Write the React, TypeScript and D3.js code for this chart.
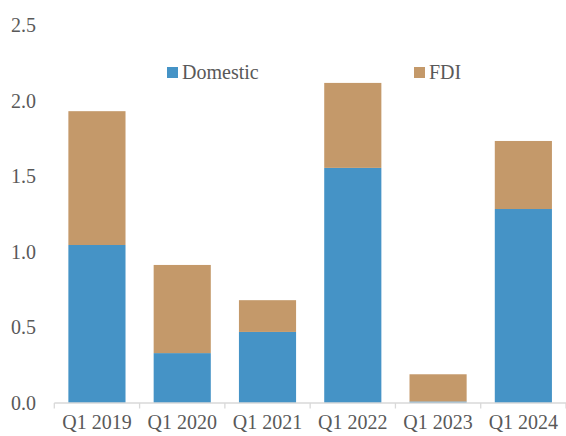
import React from "react";
import * as d3 from "d3";

const categories = ["Q1 2019", "Q1 2020", "Q1 2021", "Q1 2022", "Q1 2023", "Q1 2024"];
const domestic = [1.045, 0.33, 0.47, 1.555, 0.01, 1.283];
const fdi = [0.885, 0.583, 0.21, 0.562, 0.18, 0.45];
const yTicks = [0, 0.5, 1.0, 1.5, 2.0, 2.5];
const seriesNames = ["Domestic", "FDI"];
const colors = ["#4593C6", "#C4996A"];

const W = 566, H = 436;
const left = 54.3, right = 566, top = 25, bottom = 403;
const textColor = "#595959";
const fs = 20;

function Label(props: { x: number; y: number; anchor?: string; children: React.ReactNode }) {
  return (
    <text x={props.x} y={props.y} textAnchor={props.anchor || "start"} fontFamily="Times New Roman" fontSize={fs} fill={textColor}>
      {props.children}
    </text>
  );
}

export default function App() {
  const x = d3.scaleBand<string>().domain(categories).range([left, right]).paddingInner(0.33).paddingOuter(0.165);
  const xb = d3.scaleBand<string>().domain(categories).range([left, right]).padding(0);
  const y = d3.scaleLinear().domain([0, 2.5]).range([bottom, top]);
  const rows = categories.map((c, i) => ({ c, Domestic: domestic[i], FDI: fdi[i] }));
  const stacked = d3.stack<any>().keys(seriesNames)(rows);
  const boundaries = categories.map((c) => xb(c)!).concat([right]);
  return (
    <svg width={W} height={H} style={{ position: "absolute", left: 0, top: 0, background: "#fff", fontFamily: "Times New Roman" }}>
      {stacked.map((s, si) => (
        <g key={si} fill={colors[si]}>
          {s.map((d, i) => (
            <rect key={i} x={x(categories[i])} width={x.bandwidth()} y={y(d[1])} height={Math.max(0, y(d[0]) - y(d[1]))} />
          ))}
        </g>
      ))}
      <line x1={left} x2={right} y1={bottom} y2={bottom} stroke="#d9d9d9" strokeWidth={1.3} />
      {boundaries.map((b, i) => (
        <line key={i} x1={b} x2={b} y1={bottom} y2={bottom + 5.5} stroke="#d9d9d9" strokeWidth={1.3} />
      ))}
      {yTicks.map((t) => (
        <Label key={t} x={36} y={y(t) + 7} anchor="end">{d3.format(".1f")(t)}</Label>
      ))}
      {categories.map((c) => (
        <Label key={c} x={xb(c)! + xb.bandwidth() / 2} y={429} anchor="middle">{c}</Label>
      ))}
      {seriesNames.map((n, i) => {
        const lx = i === 0 ? 167 : 414;
        return (
          <g key={n}>
            <rect x={lx} y={67} width={11} height={11} fill={colors[i]} />
            <Label x={lx + 15} y={79}>{n}</Label>
          </g>
        );
      })}
    </svg>
  );
}
